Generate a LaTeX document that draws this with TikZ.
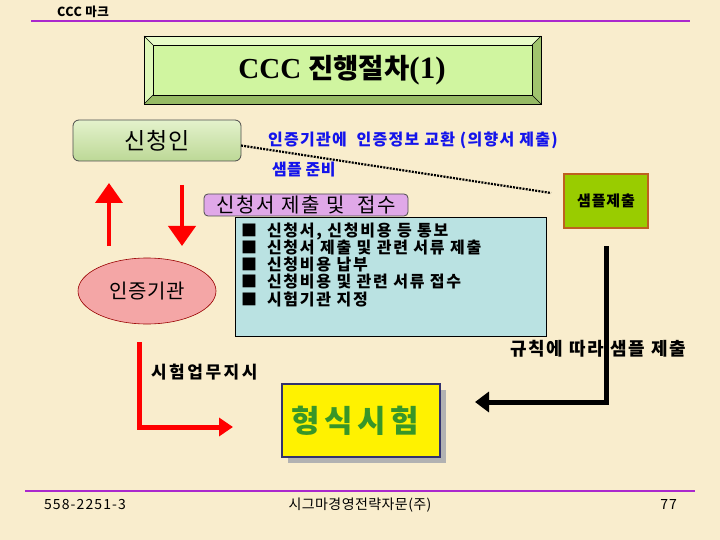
\documentclass[tikz,border=0pt]{standalone}
\usepackage{fontspec}
\setmainfont{Noto Sans CJK KR}
\newfontfamily\serifb{Liberation Serif}
\usetikzlibrary{arrows.meta,shadows,shapes.geometric}
\definecolor{bg}{RGB}{249,237,205}
\definecolor{purp}{RGB}{170,40,205}
\definecolor{tface}{RGB}{208,245,160}
\definecolor{tlight}{RGB}{232,252,200}
\definecolor{tleft}{RGB}{222,248,184}
\definecolor{tdark}{RGB}{160,196,110}
\definecolor{tbot}{RGB}{150,186,100}
\definecolor{gtop}{RGB}{228,242,204}
\definecolor{gbot}{RGB}{188,216,150}
\definecolor{bluetxt}{RGB}{20,20,235}
\definecolor{pinkbox}{RGB}{224,168,232}
\definecolor{lblue}{RGB}{186,226,226}
\definecolor{salmon}{RGB}{244,166,166}
\definecolor{sgreen}{RGB}{153,204,0}
\definecolor{sborder}{RGB}{190,96,32}
\definecolor{navy}{RGB}{50,50,110}
\definecolor{gtext}{RGB}{56,150,40}
\tikzset{
  kfont/.style 2 args={font=\fontsize{#1}{#1}\selectfont\bfseries\addfontfeature{LetterSpace=#2}},
  rfont/.style 2 args={font=\fontsize{#1}{#1}\selectfont\addfontfeature{LetterSpace=#2}},
  redarrow/.style={draw=red, line width=4pt, -{Triangle[width=27pt,length=20pt]}},
  redl/.style={draw=red, line width=5pt, line join=miter, -{Triangle[width=18pt,length=14pt]}},
  blkl/.style={draw=black, line width=5pt, line join=miter, -{Triangle[width=20pt,length=14pt]}},
  dotline/.style={draw=black, line width=2.2pt, dash pattern=on 2pt off 1.2pt},
  purpline/.style={draw=purp, line width=2pt}
}
\begin{document}
\begin{tikzpicture}[x=1pt,y=-1pt,inner sep=0pt,outer sep=0pt]
\useasboundingbox (0,0) rectangle (720,540);
\fill[bg] (0,0) rectangle (720,540);

% header / footer
\node[kfont={12.5}{4}, anchor=west] (hdr) at (57,12) {CCC 마크};
\coordinate (h1) at (31,21); \coordinate (h2) at (690,21);
\draw[purpline] (h1) -- (h2);
\coordinate (f1) at (25,491); \coordinate (f2) at (695,491);
\draw[purpline] (f1) -- (f2);
\node[rfont={14}{8}, anchor=west] (fl) at (44,505) {558-2251-3};
\node[rfont={14}{3}] (fc) at (360,505) {시그마경영전략자문(주)};
\node[rfont={14}{8}, anchor=east] (fr) at (677,505) {77};

% title bevel box
\fill[tlight] (144,36) -- (541,36) -- (532,45) -- (153,45) -- cycle;
\fill[tleft] (144,36) -- (153,45) -- (153,95) -- (144,104) -- cycle;
\fill[tdark] (541,36) -- (532,45) -- (532,95) -- (541,104) -- cycle;
\fill[tbot] (144,104) -- (153,95) -- (532,95) -- (541,104) -- cycle;
\draw[black, line width=0.8pt] (144,36) rectangle (541,104);
\draw[black, line width=0.5pt] (144,36) -- (153,45) (541,36) -- (532,45) (144,104) -- (153,95) (541,104) -- (532,95);
\fill[tface] (153.4,45.4) rectangle (531.6,94.6);
\draw[black, line width=0.6pt] (153,45) rectangle (532,95);
\node (title) at (342,70) {{\serifb\fontsize{29}{30}\selectfont\bfseries CCC}\hspace{7pt}{\fontsize{27.5}{30}\selectfont\bfseries 진행절차}{\serifb\fontsize{31}{30}\selectfont\bfseries (1)}};

% applicant
\node[draw=black!70, line width=0.8pt, rounded corners=6pt, top color=gtop, bottom color=gbot,
      minimum width=168pt, minimum height=41pt, rfont={23}{2}] (app) at (157,140.5) {신청인};

% blue texts
\node[kfont={16}{8}, text=bluetxt, anchor=west] (info) at (268,140) {인증기관에\ \ 인증정보 교환 (의향서 제출)};
\node[kfont={16}{2}, text=bluetxt, anchor=west] (prep) at (272,170) {샘플 준비};

% sample box
\node[draw=sborder, line width=1.2pt, fill=sgreen, minimum width=84pt, minimum height=54pt, kfont={15}{6}] (sample) at (606,201) {샘플제출};

% dotted line
\draw[dotline] ([yshift=-5pt]app.east) -- ([xshift=-13pt,yshift=8pt]sample.west);

% red up/down arrows
\coordinate (ua) at (109,246); \coordinate (ub) at (109,183);
\draw[redarrow] (ua) -- (ub);
\coordinate (da) at (182,185); \coordinate (db) at (182,246);
\draw[redarrow] (da) -- (db);

% items box
\node[draw=black, line width=0.8pt, fill=lblue, minimum width=311pt, minimum height=119pt] (items) at (391,276.5) {};
\node[anchor=north west, align=left, font=\fontsize{16}{17.3}\selectfont\bfseries\addfontfeature{LetterSpace=11}] (list) at (241,222.5)
{{\addfontfeature{LetterSpace=0}■}\hspace{10pt}신청서, 신청비용 등 통보\\
{\addfontfeature{LetterSpace=0}■}\hspace{10pt}신청서 제출 및 관련 서류 제출\\
{\addfontfeature{LetterSpace=0}■}\hspace{10pt}신청비용 납부\\
{\addfontfeature{LetterSpace=0}■}\hspace{10pt}신청비용 및 관련 서류 접수\\
{\addfontfeature{LetterSpace=0}■}\hspace{10pt}시험기관 지정};

% pink title
\node[draw=black!70, line width=0.8pt, fill=pinkbox, rounded corners=4pt, minimum width=204pt, minimum height=22pt, rfont={20}{9}] (sub) at (306,205) {신청서 제출 및\ \ 접수};

% certification body
\node[ellipse, draw=red!60!black, line width=0.6pt, fill=salmon, minimum width=138pt, minimum height=66pt, rfont={20}{2}] (cert) at (147,291) {인증기관};

% labels
\node[kfont={17}{15}, anchor=west] (order) at (151,372) {시험업무지시};
\node[kfont={18}{10}, anchor=east] (rule) at (686,349) {규칙에 따라 샘플 제출};

% type test box
\node[draw=navy, line width=2.5pt, fill=yellow, minimum width=158pt, minimum height=73pt,
      drop shadow={shadow xshift=6pt, shadow yshift=-6pt, fill=black!30, opacity=1}] (test) at (361,420.5) {};
\node[text=gtext, kfont={31}{14}] (testlbl) at (355,421) {형식시험};

% red L arrow
\coordinate (ra) at (139,342); \coordinate (rb) at (233,427);
\draw[redl] (ra) |- (rb);

% black L arrow
\coordinate (ka) at (606,246); \coordinate (kb) at (475,402);
\draw[blkl] (ka) |- (kb);
\end{tikzpicture}
\end{document}
